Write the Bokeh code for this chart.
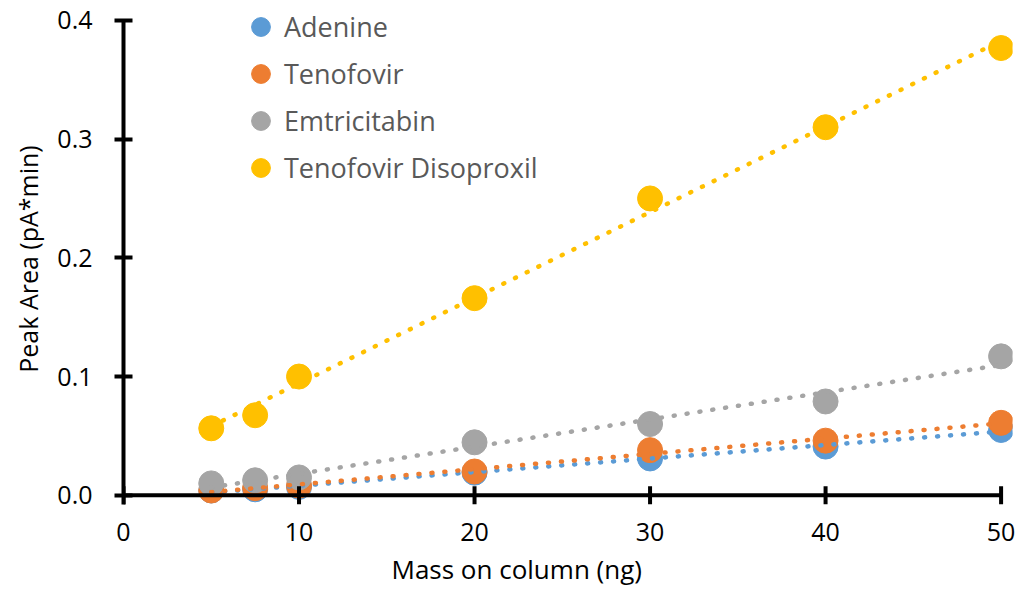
import numpy as np
from bokeh.plotting import figure
from bokeh.models import Range1d, Legend, LegendItem, FixedTicker, CustomJSTickFormatter, Title
from bokeh.embed import file_html
from bokeh.resources import INLINE

mass = [5, 7.5, 10, 20, 30, 40, 50]
adenine = [0.004, 0.005, 0.007, 0.019, 0.031, 0.041, 0.055]
tenofovir = [0.004, 0.006, 0.008, 0.020, 0.038, 0.046, 0.061]
emtricitabin = [0.010, 0.0126, 0.015, 0.0446, 0.060, 0.079, 0.117]
tenofovir_dis = [0.0564, 0.0674, 0.100, 0.166, 0.250, 0.310, 0.3767]

names = ["Adenine", "Tenofovir", "Emtricitabin", "Tenofovir Disoproxil"]
series = [adenine, tenofovir, emtricitabin, tenofovir_dis]
colors = ["#5B9BD5", "#ED7D31", "#A5A5A5", "#FFC000"]
x_ticks = [0, 10, 20, 30, 40, 50]
y_ticks = [0.0, 0.1, 0.2, 0.3, 0.4]

FONT = "Open Sans"
FW, FH = 889, 501
X0, X1 = 0, 50.65
Y0, Y1 = -0.012, 0.41
upp_y = (Y1 - Y0) / FH  # data units per pixel (y)
TICK = 9

p = figure(
    output_backend="svg", toolbar_location=None,
    frame_width=FW, frame_height=FH,
    x_range=Range1d(X0, X1), y_range=Range1d(Y0, Y1),
    min_border_left=123, min_border_right=9, min_border_top=8, min_border_bottom=0,
)
p.grid.visible = False
p.outline_line_color = None

renderers = []
for ys, c in zip(series, colors):
    r = p.scatter(mass, ys, size=25, color=c, line_color=c)
    renderers.append(r)

xs = np.array(mass, dtype=float)
for ys, c in zip(series, colors):
    m, b = np.polyfit(xs, np.array(ys), 1)
    xl = [xs.min(), xs.max()]
    p.line(xl, [m * xl[0] + b, m * xl[1] + b], line_color=c, line_width=4.5,
           line_dash="1 12", line_cap="round")

# x axis line drawn at y = 0 (the frame extends a little below zero)
p.segment(x0=[x_ticks[0]], y0=[0], x1=[x_ticks[-1]], y1=[0],
          line_color="black", line_width=4)
p.segment(x0=x_ticks, y0=[-TICK * upp_y] * len(x_ticks),
          x1=x_ticks, y1=[TICK * upp_y] * len(x_ticks),
          line_color="black", line_width=4)

for ax in (p.xaxis[0], p.yaxis[0]):
    ax.minor_tick_line_color = None
    ax.major_label_text_font = FONT
    ax.major_label_text_font_size = "25px"
    ax.major_label_text_color = "black"
    ax.axis_label_text_font = FONT
    ax.axis_label_text_font_size = "25px"
    ax.axis_label_text_font_style = "normal"
    ax.axis_label_text_color = "black"

ya = p.yaxis[0]
ya.axis_line_width = 4
ya.axis_line_color = "black"
ya.major_tick_line_width = 4
ya.major_tick_line_color = "black"
ya.major_tick_in = TICK
ya.major_tick_out = TICK
ya.ticker = FixedTicker(ticks=y_ticks)
ya.bounds = (-TICK * upp_y, y_ticks[-1])
ya.formatter = CustomJSTickFormatter(code="return tick.toFixed(1);")
ya.major_label_standoff = 22
ya.axis_label = "Peak Area (pA*min)"
ya.axis_label_standoff = 9

xa = p.xaxis[0]
xa.axis_line_color = None
xa.major_tick_line_color = None
xa.major_tick_in = 0
xa.major_tick_out = 0
xa.ticker = FixedTicker(ticks=x_ticks)
xa.major_label_standoff = 13

xtitle = Title(text="Mass on column (ng)", align="left", offset=268,
               text_font=FONT, text_font_size="26px", text_font_style="normal",
               text_color="black", standoff=10)
p.add_layout(xtitle, "below")

legend = Legend(
    items=[LegendItem(label=n, renderers=[r]) for n, r in zip(names, renderers)],
    location=(114, FH + 5 - 4 * 47),
    glyph_width=47, glyph_height=47, label_height=47, spacing=0,
    label_standoff=0, padding=0, margin=0,
    label_text_font=FONT, label_text_font_size="27px", label_text_color="#595959",
    border_line_alpha=0, background_fill_alpha=0,
)
p.add_layout(legend)

open("out.html", "w").write(file_html(p, INLINE))
